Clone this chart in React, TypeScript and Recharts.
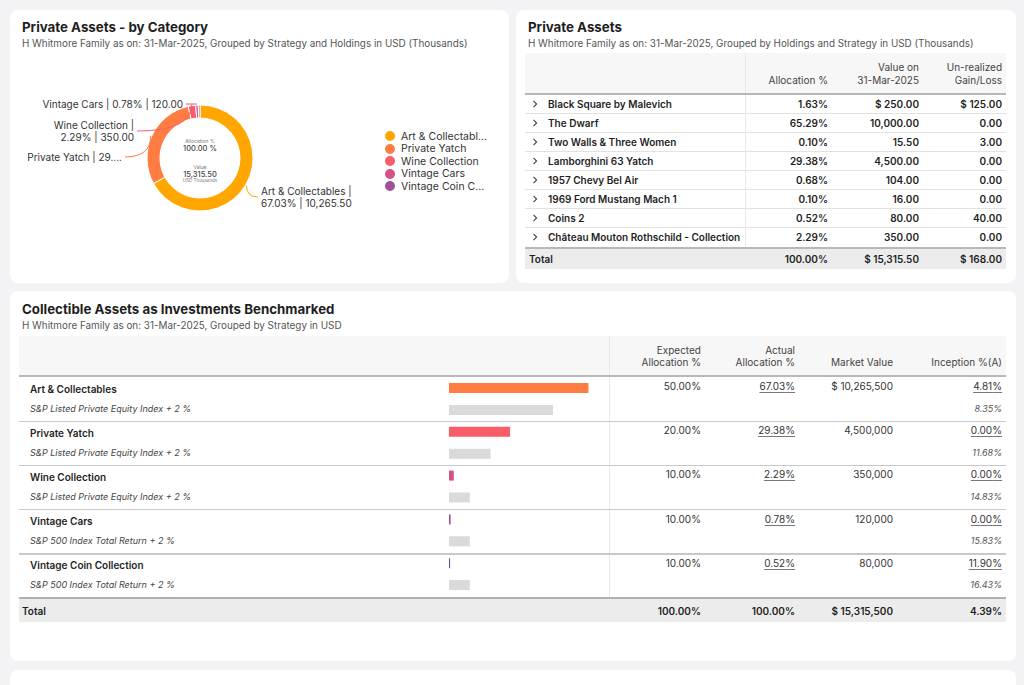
import React from "react";
import { PieChart, Pie, Cell, Legend, BarChart, Bar, XAxis, YAxis } from "recharts";

const FONT = "Inter, 'Noto Sans', sans-serif";

// ── Data ───────────────────────────────────────────────────────────────────

const categories = ["Art & Collectables", "Private Yatch", "Wine Collection", "Vintage Cars", "Vintage Coin Collection"];
const categoryValues = [10265.5, 4500, 350, 120, 80]; // USD thousands
const categoryColors = ["#ffa600", "#ff7c43", "#f95d6a", "#d45087", "#a05195"];

const holdings = [
    "Black Square by Malevich",
    "The Dwarf",
    "Two Walls & Three Women",
    "Lamborghini 63 Yatch",
    "1957 Chevy Bel Air",
    "1969 Ford Mustang Mach 1",
    "Coins 2",
    "Château Mouton Rothschild - Collection",
];
const holdingAlloc = [1.63, 65.29, 0.1, 29.38, 0.68, 0.1, 0.52, 2.29];
const holdingValue = [250, 10000, 15.5, 4500, 104, 16, 80, 350];
const holdingGain = [125, 0, 3, 0, 0, 0, 40, 0];

const benchmarks = [
    "S&P Listed Private Equity Index + 2 %",
    "S&P Listed Private Equity Index + 2 %",
    "S&P Listed Private Equity Index + 2 %",
    "S&P 500 Index Total Return + 2 %",
    "S&P 500 Index Total Return + 2 %",
];
const expectedAlloc = [50, 20, 10, 10, 10];
const actualAlloc = [67.03, 29.38, 2.29, 0.78, 0.52];
const marketValue = [10265500, 4500000, 350000, 120000, 80000];
const inceptionReturn = [4.81, 0, 0, 0, 11.9];
const benchmarkReturn = [8.35, 11.68, 14.83, 15.83, 16.43];
const totalInception = 4.39;
const barColors = ["#ff7c43", "#f95d6a", "#d45087", "#a05195", "#665191"];
const benchmarkBarColor = "#dadada";

// ── helpers ────────────────────────────────────────────────────────────────

const fmt2 = (n: number) => n.toLocaleString("en-US", { minimumFractionDigits: 2, maximumFractionDigits: 2 });
const fmt0 = (n: number) => n.toLocaleString("en-US", { maximumFractionDigits: 0 });
const sum = (a: number[]) => a.reduce((s, v) => s + v, 0);

const categoryTotal = sum(categoryValues);
const pieData = categories.map((name, i) => ({ name, value: categoryValues[i] }));

const barRows = categories.flatMap((c, i) => [
    { key: c, value: actualAlloc[i], fill: barColors[i] },
    { key: c + " (expected)", value: expectedAlloc[i], fill: benchmarkBarColor },
]);

// truncate a label to a pixel width, the way the legend does
let measureCtx: CanvasRenderingContext2D | null = null;
function truncate(text: string, maxW: number, font: string) {
    if (!measureCtx) measureCtx = document.createElement("canvas").getContext("2d");
    if (!measureCtx) return text;
    measureCtx.font = font;
    if (measureCtx.measureText(text).width <= maxW) return text;
    let t = text;
    while (t.length > 1 && measureCtx.measureText(t + "...").width > maxW) t = t.slice(0, -1);
    return t + "...";
}

type TP = { x: number; y: number; a?: "l" | "r" | "c"; s?: React.CSSProperties; children: React.ReactNode };
function T({ x, y, a = "l", s, children }: TP) {
    const w = 400;
    const left = a === "l" ? x : a === "r" ? x - w : x - w / 2;
    return (
        <div
            style={{
                position: "absolute",
                left,
                top: y - 8,
                width: w,
                height: 16,
                lineHeight: "16px",
                textAlign: a === "l" ? "left" : a === "r" ? "right" : "center",
                whiteSpace: "nowrap",
                ...s,
            }}
        >
            {children}
        </div>
    );
}

function Box({ x, y, w, h, bg, r = 0 }: { x: number; y: number; w: number; h: number; bg: string; r?: number }) {
    return <div style={{ position: "absolute", left: x, top: y, width: w, height: h, background: bg, borderRadius: r }} />;
}

function Chevron({ x, y }: { x: number; y: number }) {
    return (
        <svg style={{ position: "absolute", left: x, top: y - 4 }} width={6} height={8}>
            <path d="M1.5,0.8 L4.6,4 L1.5,7.2" fill="none" stroke="#444" strokeWidth={1.1} />
        </svg>
    );
}

// ── Donut labels / legend ──────────────────────────────────────────────────

const labelSpots: ({ dx: number; dy: number; anchor: "start" | "end" } | null)[] = [
    { dx: 61, dy: 33, anchor: "start" },
    { dx: -78, dy: -1, anchor: "end" },
    { dx: -66, dy: -33, anchor: "end" },
    { dx: -17, dy: -54, anchor: "end" },
    null,
];

function pieLabelLines(i: number) {
    const pct = ((categoryValues[i] / categoryTotal) * 100).toFixed(2) + "%";
    const v = fmt2(categoryValues[i]);
    if (i === 0 || i === 2) return [`${categories[i]} |`, `${pct} | ${v}`];
    if (i === 1) return [`${categories[i]} | ${pct}`.slice(0, 18) + "...."];
    return [`${categories[i]} | ${pct} | ${v}`];
}

function renderPieLabel(props: any) {
    const { cx, cy, midAngle, outerRadius, index } = props;
    const spot = labelSpots[index];
    if (!spot) return null;
    const lines = pieLabelLines(index);
    const RAD = Math.PI / 180;
    const sx = cx + (outerRadius + 1) * Math.cos(-midAngle * RAD);
    const sy = cy + (outerRadius + 1) * Math.sin(-midAngle * RAD);
    const tx = cx + spot.dx;
    const ty = cy + spot.dy;
    const ex = spot.anchor === "start" ? tx - 3 : tx + 3;
    const ey = ty + (lines.length > 1 ? 6 : 0);
    return (
        <g>
            <path d={`M${sx},${sy} Q${sx},${ey} ${ex},${ey}`} fill="none" stroke={categoryColors[index]} strokeWidth={1} />
            <text x={tx} y={ty} textAnchor={spot.anchor} fontSize={10} fill="#333" fontFamily={FONT}>
                {lines.map((l, k) => (
                    <tspan key={k} x={tx} dy={k === 0 ? "0.35em" : 12}>
                        {l}
                    </tspan>
                ))}
            </text>
        </g>
    );
}

function renderLegend() {
    return (
        <div style={{ fontFamily: FONT }}>
            {categories.map((name, i) => (
                <div key={name} style={{ display: "flex", alignItems: "center", height: 12.5 }}>
                    <span style={{ width: 10, height: 10, borderRadius: 5, background: categoryColors[i], marginRight: 6, flexShrink: 0 }} />
                    <span style={{ fontSize: 10.5, color: "#333", whiteSpace: "nowrap" }}>
                        {truncate(name, 88, `10.5px ${FONT}`)}
                    </span>
                </div>
            ))}
        </div>
    );
}

// ── App ────────────────────────────────────────────────────────────────────

export default function App() {
    const titleS: React.CSSProperties = { fontSize: 13.3, fontWeight: 700, color: "#1e1e1e" };
    const subS: React.CSSProperties = { fontSize: 9.9, color: "#555" };
    const headS: React.CSSProperties = { fontSize: 10, color: "#444" };
    const cellS: React.CSSProperties = { fontSize: 10, fontWeight: 600, color: "#1f1f1f" };
    const numS: React.CSSProperties = { fontSize: 10, color: "#333" };
    const linkS: React.CSSProperties = { ...numS, textDecoration: "underline", textUnderlineOffset: 2, textDecorationColor: "#777" };

    const holdingTotal = sum(holdingValue);

    return (
        <div style={{ position: "relative", width: 1024, height: 685, background: "#f3f3f5", fontFamily: FONT, color: "#222", overflow: "hidden" }}>
            <style>{`body{margin:0}`}</style>

            {/* cards */}
            <Box x={10} y={10} w={499} h={273} bg="#fff" r={8} />
            <Box x={516} y={10} w={500} h={273} bg="#fff" r={8} />
            <Box x={10} y={291} w={1006} h={370} bg="#fff" r={8} />
            <Box x={10} y={670} w={1006} h={40} bg="#fff" r={8} />

            {/* ── Private Assets - by Category ── */}
            <T x={22} y={27} s={titleS}>Private Assets - by Category</T>
            <T x={22} y={43} s={subS}>H Whitmore Family as on: 31-Mar-2025, Grouped by Strategy and Holdings in USD (Thousands)</T>

            <div style={{ position: "absolute", left: 20, top: 70 }}>
                <PieChart width={490} height={180} margin={{ top: 0, right: 0, bottom: 0, left: 0 }}>
                    <Pie
                        data={pieData}
                        dataKey="value"
                        nameKey="name"
                        cx={180}
                        cy={88}
                        innerRadius={40}
                        outerRadius={53}
                        startAngle={90}
                        endAngle={-270}
                        stroke="#fff"
                        strokeWidth={1}
                        label={renderPieLabel}
                        labelLine={false}
                        isAnimationActive={false}
                    >
                        {pieData.map((d, i) => (
                            <Cell key={d.name} fill={categoryColors[i]} />
                        ))}
                    </Pie>
                    <Legend layout="vertical" content={renderLegend} wrapperStyle={{ left: 365, top: 60, width: 120 }} />
                </PieChart>
            </div>

            {/* donut centre */}
            <T x={200} y={141} a="c" s={{ fontSize: 5, color: "#777" }}>Allocation %</T>
            <T x={200} y={149} a="c" s={{ fontSize: 7.5, color: "#444", fontWeight: 500 }}>{fmt2(100)} %</T>
            <T x={200} y={167} a="c" s={{ fontSize: 5, color: "#777" }}>Value</T>
            <T x={200} y={175} a="c" s={{ fontSize: 7.5, color: "#444", fontWeight: 500 }}>{fmt2(categoryTotal)}</T>
            <T x={200} y={181} a="c" s={{ fontSize: 4.5, color: "#777" }}>USD Thousands</T>

            {/* ── Private Assets table ── */}
            <T x={528} y={27} s={titleS}>Private Assets</T>
            <T x={528} y={43} s={subS}>H Whitmore Family as on: 31-Mar-2025, Grouped by Holdings and Strategy in USD (Thousands)</T>

            <Box x={525} y={53} w={481} h={40} bg="#f7f7f7" />
            <Box x={745} y={53} w={1} h={194} bg="#e8e8e8" />
            <T x={828} y={80} a="r" s={headS}>Allocation %</T>
            <T x={919} y={67} a="r" s={headS}>Value on</T>
            <T x={919} y={80} a="r" s={headS}>31-Mar-2025</T>
            <T x={1002} y={67} a="r" s={headS}>Un-realized</T>
            <T x={1002} y={80} a="r" s={headS}>Gain/Loss</T>
            <Box x={525} y={92.5} w={481} h={2} bg="#b8b8b8" />

            {holdings.map((h, i) => {
                const top = 94.5 + 19 * i;
                const cy = top + 9.5;
                return (
                    <React.Fragment key={h}>
                        <Chevron x={532} y={cy} />
                        <T x={548} y={cy} s={cellS}>{h}</T>
                        <T x={828} y={cy} a="r" s={cellS}>{fmt2(holdingAlloc[i])}%</T>
                        <T x={919} y={cy} a="r" s={cellS}>{i === 0 ? "$ " : ""}{fmt2(holdingValue[i])}</T>
                        <T x={1002} y={cy} a="r" s={cellS}>{i === 0 ? "$ " : ""}{fmt2(holdingGain[i])}</T>
                        {i < holdings.length - 1 && <Box x={525} y={top + 18.5} w={481} h={1} bg="#e2e2e2" />}
                    </React.Fragment>
                );
            })}
            <Box x={525} y={246.5} w={481} h={2} bg="#b8b8b8" />
            <Box x={525} y={248.5} w={481} h={20.5} bg="#ececec" />
            <T x={529} y={258.5} s={cellS}>Total</T>
            <T x={828} y={258.5} a="r" s={cellS}>{fmt2((holdingTotal / holdingTotal) * 100)}%</T>
            <T x={919} y={258.5} a="r" s={cellS}>$ {fmt2(holdingTotal)}</T>
            <T x={1002} y={258.5} a="r" s={cellS}>$ {fmt2(sum(holdingGain))}</T>

            {/* ── Collectible Assets as Investments Benchmarked ── */}
            <T x={22} y={309} s={titleS}>Collectible Assets as Investments Benchmarked</T>
            <T x={22} y={325} s={subS}>H Whitmore Family as on: 31-Mar-2025, Grouped by Strategy in USD</T>

            <Box x={19} y={336} w={987} h={39} bg="#f7f7f7" />
            <Box x={609} y={336} w={1} h={262} bg="#e8e8e8" />
            <T x={701} y={350} a="r" s={headS}>Expected</T>
            <T x={701} y={362} a="r" s={headS}>Allocation %</T>
            <T x={795} y={350} a="r" s={headS}>Actual</T>
            <T x={795} y={362} a="r" s={headS}>Allocation %</T>
            <T x={893} y={362} a="r" s={headS}>Market Value</T>
            <T x={1002} y={362} a="r" s={headS}>Inception %(A)</T>
            <Box x={19} y={375} w={987} h={2} bg="#b8b8b8" />

            {categories.map((c, g) => {
                const top = 377 + 44.2 * g;
                return (
                    <React.Fragment key={c}>
                        <T x={30} y={top + 11.5} s={cellS}>{c}</T>
                        <T x={30} y={top + 31.5} s={{ fontSize: 9, fontStyle: "italic", color: "#444" }}>{benchmarks[g]}</T>
                        <T x={701} y={top + 9} a="r" s={numS}>{fmt2(expectedAlloc[g])}%</T>
                        <T x={795} y={top + 9} a="r" s={linkS}>{fmt2(actualAlloc[g])}%</T>
                        <T x={893} y={top + 9} a="r" s={numS}>{g === 0 ? "$ " : ""}{fmt0(marketValue[g])}</T>
                        <T x={1002} y={top + 9} a="r" s={linkS}>{fmt2(inceptionReturn[g])}%</T>
                        <T x={1002} y={top + 31.5} a="r" s={{ fontSize: 9, fontStyle: "italic", color: "#555" }}>{fmt2(benchmarkReturn[g])}%</T>
                        {g < categories.length - 1 && <Box x={19} y={top + 43.5} w={987} h={1.5} bg="#c8c8c8" />}
                    </React.Fragment>
                );
            })}

            <div style={{ position: "absolute", left: 448.5, top: 377 }}>
                <BarChart width={208} height={219} data={barRows} layout="vertical" margin={{ top: 0, right: 0, bottom: 0, left: 0 }}>
                    <XAxis type="number" domain={[0, 100]} hide />
                    <YAxis type="category" dataKey="key" hide />
                    <Bar dataKey="value" barSize={10} isAnimationActive={false}>
                        {barRows.map((r) => (
                            <Cell key={r.key} fill={r.fill} />
                        ))}
                    </Bar>
                </BarChart>
            </div>

            <Box x={19} y={597} w={987} h={2} bg="#b0b0b0" />
            <Box x={19} y={599} w={987} h={23} bg="#ececec" />
            <T x={22} y={610.5} s={cellS}>Total</T>
            <T x={701} y={610.5} a="r" s={cellS}>{fmt2(sum(expectedAlloc))}%</T>
            <T x={795} y={610.5} a="r" s={cellS}>{fmt2(100)}%</T>
            <T x={893} y={610.5} a="r" s={cellS}>$ {fmt0(sum(marketValue))}</T>
            <T x={1002} y={610.5} a="r" s={cellS}>{fmt2(totalInception)}%</T>
        </div>
    );
}
